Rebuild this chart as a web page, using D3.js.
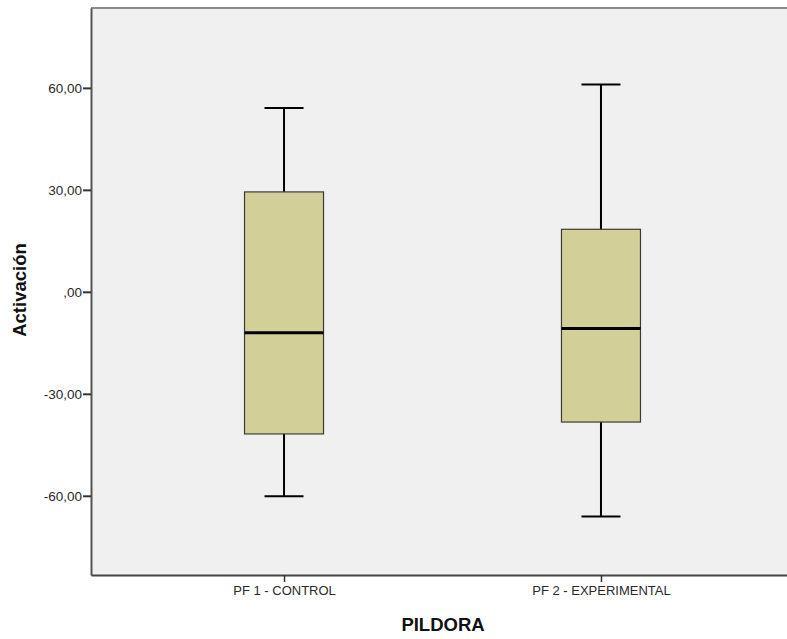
<!DOCTYPE html>
<html>
<head>
<meta charset="utf-8">
<script src="https://cdn.jsdelivr.net/npm/d3@7"></script>
<style>
  body { margin: 0; background: #fff; }
  svg { display: block; font-family: "Liberation Sans", Arial, sans-serif; }
</style>
</head>
<body>
<div id="root"></div>
<script>
const width = 787;
const height = 639;

// data
const categories = ["PF 1 - CONTROL", "PF 2 - EXPERIMENTAL"];
const whiskerLow = [-60.1, -66.1];
const q1 = [-41.8, -38.3];
const median = [-12.0, -10.8];
const q3 = [29.4, 18.4];
const whiskerHigh = [54.1, 61.0];
const yTicks = [-60, -30, 0, 30, 60];

const boxes = categories.map((c, i) => ({
  name: c,
  lo: whiskerLow[i],
  q1: q1[i],
  med: median[i],
  q3: q3[i],
  hi: whiskerHigh[i]
}));

const plot = { left: 91, top: 8, right: 794, bottom: 575 };

const x = d3
  .scalePoint()
  .domain(categories)
  .range([plot.left, plot.right])
  .padding(0.609);

const y = d3
  .scaleLinear()
  .domain([-83.3, 83.5])
  .range([plot.bottom, plot.top]);

const boxW = 79;
const capW = 39;

// SPSS style: 2 decimals, comma, no leading zero
const fmt = (d) => (d === 0 ? ",00" : d.toFixed(2).replace(".", ","));

const svg = d3
  .select("#root")
  .append("svg")
  .attr("width", width)
  .attr("height", height);

// plot background
svg
  .append("rect")
  .attr("x", plot.left)
  .attr("y", plot.top)
  .attr("width", width - plot.left)
  .attr("height", plot.bottom - plot.top)
  .attr("fill", "#f0f0f0");

// top border
svg
  .append("line")
  .attr("x1", plot.left)
  .attr("x2", width)
  .attr("y1", plot.top)
  .attr("y2", plot.top)
  .attr("stroke", "#8a8a8a")
  .attr("stroke-width", 2);

const box = svg
  .append("g")
  .selectAll("g")
  .data(boxes)
  .join("g")
  .attr("transform", (d) => `translate(${x(d.name)},0)`);

// whisker stems
box
  .append("line")
  .attr("x1", 0)
  .attr("x2", 0)
  .attr("y1", (d) => y(d.hi))
  .attr("y2", (d) => y(d.lo))
  .attr("stroke", "#000")
  .attr("stroke-width", 2);

// caps
box
  .selectAll(".cap")
  .data((d) => [d.lo, d.hi])
  .join("line")
  .attr("class", "cap")
  .attr("x1", -capW / 2)
  .attr("x2", capW / 2)
  .attr("y1", (v) => y(v))
  .attr("y2", (v) => y(v))
  .attr("stroke", "#000")
  .attr("stroke-width", 2);

// boxes
box
  .append("rect")
  .attr("x", -boxW / 2)
  .attr("width", boxW)
  .attr("y", (d) => y(d.q3))
  .attr("height", (d) => y(d.q1) - y(d.q3))
  .attr("fill", "#d3cf99")
  .attr("stroke", "#3c3c32")
  .attr("stroke-width", 1.2);

// medians
box
  .append("line")
  .attr("x1", -boxW / 2)
  .attr("x2", boxW / 2)
  .attr("y1", (d) => y(d.med))
  .attr("y2", (d) => y(d.med))
  .attr("stroke", "#000")
  .attr("stroke-width", 3);

// y axis
const yAxis = svg
  .append("g")
  .attr("transform", `translate(${plot.left},0)`)
  .call(
    d3
      .axisLeft(y)
      .tickValues(yTicks)
      .tickSize(8)
      .tickSizeOuter(0)
      .tickPadding(1)
      .tickFormat(fmt)
  );
yAxis.select(".domain").attr("stroke", "#555").attr("stroke-width", 2);
yAxis.selectAll(".tick line").attr("stroke", "#333").attr("stroke-width", 2);
yAxis
  .selectAll(".tick text")
  .attr("fill", "#2a2a2a")
  .attr("font-size", 13.5)
  .attr("font-family", "Liberation Sans, Arial, sans-serif");

// x axis
const xAxis = svg
  .append("g")
  .attr("transform", `translate(0,${plot.bottom})`)
  .call(d3.axisBottom(x).tickSize(7).tickPadding(4).tickSizeOuter(0));
xAxis.select(".domain").attr("stroke", "#444").attr("stroke-width", 2);
xAxis.selectAll(".tick line").attr("stroke", "#333").attr("stroke-width", 1.5);
xAxis
  .selectAll(".tick text")
  .attr("fill", "#2a2a2a")
  .attr("font-size", 13)
  .attr("font-family", "Liberation Sans, Arial, sans-serif");

// axis titles
svg
  .append("text")
  .attr("transform", `translate(26,290) rotate(-90)`)
  .attr("text-anchor", "middle")
  .attr("font-size", 18.5)
  .attr("font-weight", "bold")
  .attr("fill", "#111")
  .text("Activación");

svg
  .append("text")
  .attr("x", 443)
  .attr("y", 631)
  .attr("text-anchor", "middle")
  .attr("font-size", 18.5)
  .attr("font-weight", "bold")
  .attr("fill", "#111")
  .text("PILDORA");
</script>
</body>
</html>
